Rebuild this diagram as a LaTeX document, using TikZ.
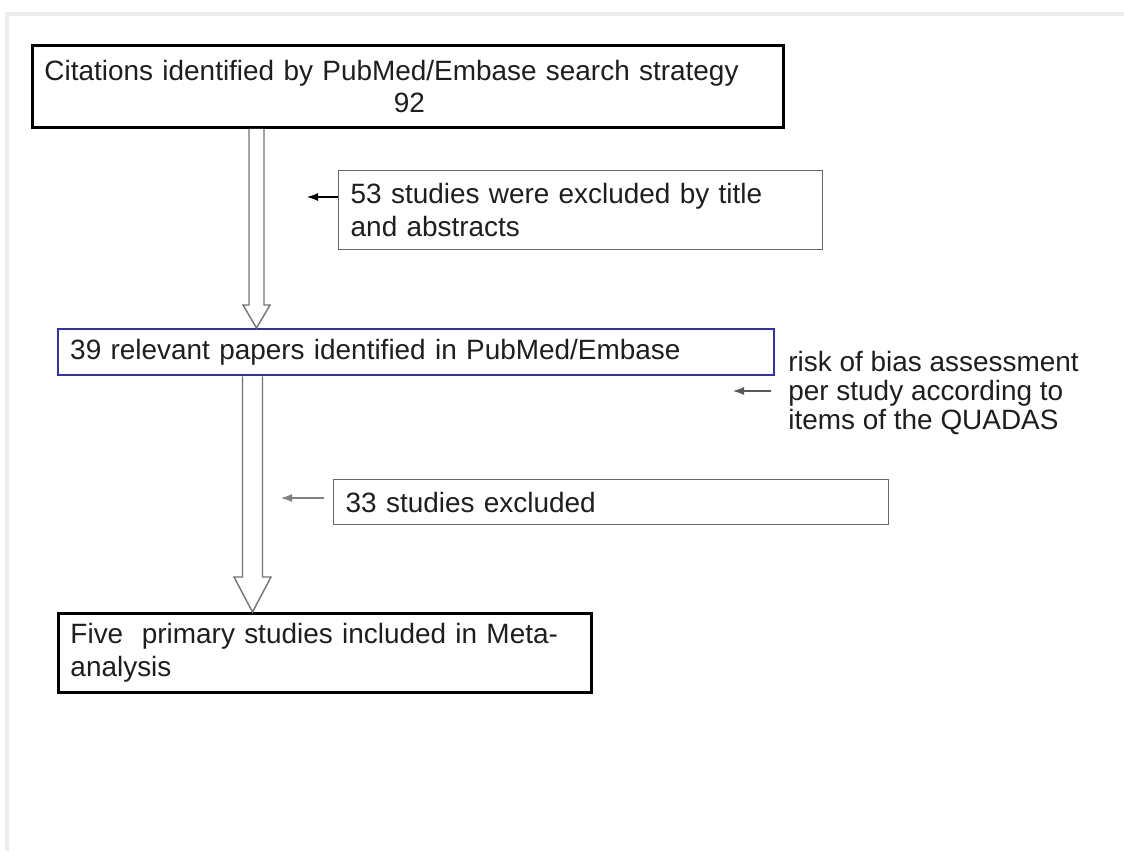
\documentclass[tikz,border=0pt]{standalone}
\usepackage{fontspec}
\setmainfont{Liberation Sans}
\usepackage{xcolor}
\usepackage{tikz}
\usetikzlibrary{arrows.meta,calc}

\definecolor{txtgray}{RGB}{30,30,30}
\definecolor{relblue}{RGB}{52,52,150}

% hollow block arrow: top, tip, shaft half width, head half width, head length
\newcommand\hollowarrow[5]{%
  \draw[hollow] ($(#1)+(-#3,0)$) -- ($(#2)+(-#3,-#5)$) -- ($(#2)+(-#4,-#5)$)
    -- (#2) -- ($(#2)+(#4,-#5)$) -- ($(#2)+(#3,-#5)$) -- ($(#1)+(#3,0)$);}

\begin{document}
\begin{tikzpicture}[x=0.02cm, y=-0.02cm,
  font=\fontsize{15.9pt}{18.6pt}\selectfont, text=txtgray,
  blk/.style={draw, anchor=north west, inner xsep=0.24cm, inner ysep=0pt, align=left},
  thickblk/.style={blk, line width=1.7pt, draw=black},
  thinblk/.style={blk, line width=0.8pt, draw=black!60},
  arr/.style={-{Latex[length=2.2mm, width=1.6mm]}, line width=0.6pt},
  hollow/.style={draw=black!55, fill=white, line width=0.8pt}]
\useasboundingbox (0,0) rectangle (1124,851);
\draw[black!7, line width=0.08cm] (7,851) -- (7,14) -- (1124,14);

\node[thickblk, text width=14.54cm, minimum height=1.64cm] (cit) at (31,44)
  {Citations identified by PubMed/Embase search strategy\\\hspace*{6.99cm}92};
\node[thinblk, text width=9.2cm, minimum height=1.58cm] (exc1) at (338,170)
  {53 studies were excluded by title\\and abstracts};
\node[blk, draw=relblue, line width=1.4pt, text width=13.84cm, minimum height=0.92cm] (rel) at (57,328)
  {39 relevant papers identified in PubMed/Embase};
\node[align=left, inner sep=0pt, anchor=west, font=\fontsize{15.9pt}{16.6pt}\selectfont] (risk) at (788,393)
  {risk of bias assessment\\per study according to\\items of the QUADAS};
\node[thinblk, text width=10.62cm, minimum height=0.9cm] (exc2) at (333,479)
  {33 studies excluded};
\node[thickblk, text width=10.18cm, minimum height=1.58cm] (incl) at (57,612)
  {Five\ \ primary studies included in Meta-\\analysis};

\coordinate (s1) at (256.5,0);
\coordinate (s2) at (252.5,0);
\hollowarrow{s1 |- cit.south}{s1 |- rel.north}{7.5}{13.5}{23}
\hollowarrow{s2 |- rel.south}{s2 |- incl.north}{10}{18.5}{35}

\coordinate (e1) at (307,197);
\coordinate (e2) at (281,498);
\coordinate (e3) at (733,391);
\draw[arr] (e1 -| exc1.west) -- (e1);
\draw[arr, black!50, shorten <=0.18cm] (e2 -| exc2.west) -- (e2);
\draw[arr, black!65, shorten <=0.34cm] (e3 -| risk.west) -- (e3);
\end{tikzpicture}
\end{document}
